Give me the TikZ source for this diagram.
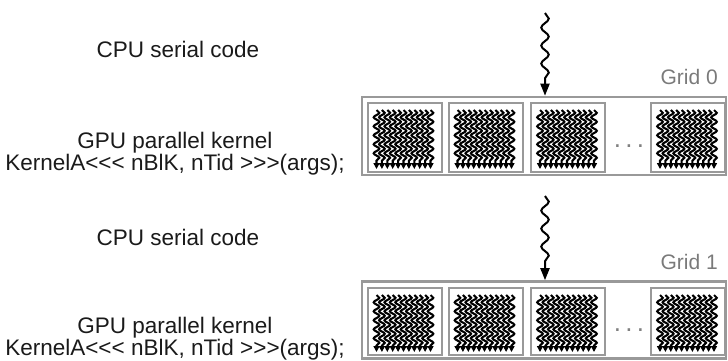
\documentclass[tikz,border=0pt]{standalone}
\usepackage{fontspec}
\setmainfont{Liberation Sans}[Ligatures=TeXOff]
\usetikzlibrary{positioning, arrows.meta, decorations.pathmorphing}
\definecolor{gridgray}{HTML}{999999}
\definecolor{labelgray}{HTML}{7A7A7A}
\definecolor{textdark}{HTML}{1A1A1A}

\begin{document}
\begin{tikzpicture}[x=1pt, y=-1pt,
        txt/.style={align=center, font=\fontsize{22.5}{20.5}\selectfont, text=textdark, inner sep=0pt},
        gridbox/.style={draw=gridgray, line width=2.6pt, minimum width=364pt, inner sep=0pt},
        blockbox/.style={draw=gridgray, line width=2pt, minimum width=74pt, inner sep=0pt},
        gridlabel/.style={font=\fontsize{21}{20}\selectfont, text=labelgray, anchor=east, inner sep=0pt},
        thread/.style={decorate, decoration={snake, amplitude=2.8pt, segment length=9pt, post length=5pt},
            line width=2.1pt, -{Triangle[width=6pt, length=6pt]}},
        mainthread/.style={decorate, decoration={snake, amplitude=3.8pt, segment length=18pt, post length=10pt},
            line width=2pt, -{Triangle[width=9pt, length=12pt]}}
    ]
      \useasboundingbox (0,0) rectangle (728,361);
      % left column texts
      \node[txt] (cpu0) at (178,49) {CPU serial code};
      \node[txt] (gpu0) at (175,154) {GPU parallel kernel\\KernelA<<< nBlK, nTid >>>(args);};
      \node[txt] (cpu1) at (178,237) {CPU serial code};
      \node[txt] (gpu1) at (175,339) {GPU parallel kernel\\KernelA<<< nBlK, nTid >>>(args);};
      % grids
      \node[gridbox, minimum height=78pt] (grid0) at (544,136) {};
      \node[gridbox, minimum height=77pt] (grid1) at (544,320) {};
      \node[gridlabel] (label0) at (718,77) {Grid 0};
      \node[gridlabel] (label1) at (718,262) {Grid 1};
      % serial threads
      \coordinate (start0) at (545,13);
      \coordinate (start1) at (545,196);
      \draw[mainthread] (start0) -- (start0 |- grid0.north);
      \draw[mainthread] (start1) -- (start1 |- grid1.north);
      % blocks of threads
      \foreach \g/\yc/\h in {0/137.5/69, 1/321.5/67} {
        \foreach \i/\xc in {1/404.5, 2/485.5, 3/568, 4/688} {
          \node[blockbox, minimum height=\h pt] (blk\g\i) at (\xc,\yc) {};
          \foreach \k in {0,...,10}
            \draw[thread] ([xshift=10pt+\k*5.4pt, yshift=-8pt]blk\g\i.north west)
              -- ([xshift=10pt+\k*5.4pt, yshift=4pt]blk\g\i.south west);
        }
        \node[font=\fontsize{26}{26}\selectfont, text=gray] (dots\g) at (629,\yc+9) {.\,.\,.};
      }
    \end{tikzpicture}
\end{document}
